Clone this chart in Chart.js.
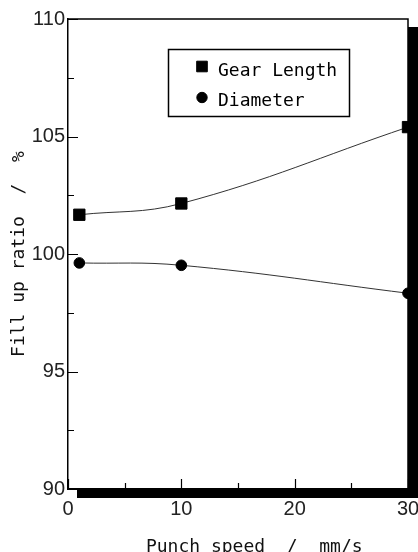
<!DOCTYPE html>
<html><head><meta charset="utf-8">
<script src="https://cdn.jsdelivr.net/npm/chart.js@4/dist/chart.umd.min.js"></script>
<style>html,body{margin:0;padding:0;background:#fff;overflow:hidden}</style>
</head><body>
<canvas id="c" width="418" height="552"></canvas>
<script>
const speeds = [1, 10, 30];
const gearLength = [101.67, 102.15, 105.4];
const diameter = [99.62, 99.52, 98.33];
const seriesNames = ['Gear Length', 'Diameter'];
const seriesMarkers = ['rect', 'circle'];
const xMajorTicks = [0, 10, 20, 30];
const xMinorTicks = [5, 15, 25];
const yMajorTicks = [90, 95, 100, 105, 110];
const yMinorTicks = [92.5, 97.5, 102.5, 107.5];
const xTitle = 'Punch speed  /  mm/s';
const yTitle = 'Fill up ratio  /  %';

const MONO = '"DejaVu Sans Mono", monospace';
const SANS = '"Liberation Sans", Arial, sans-serif';

function pts(ys) { return speeds.map((x, i) => ({x: x, y: ys[i]})); }

const framePlugin = {
  id: 'frame',
  beforeDraw(chart) {
    const {ctx, chartArea: a} = chart;
    ctx.save();
    ctx.fillStyle = '#000';
    ctx.fillRect(a.left + 9, a.top + 8, (a.right + 10) - (a.left + 9), (a.bottom + 9) - (a.top + 8));
    ctx.fillStyle = '#fff';
    ctx.fillRect(a.left, a.top, a.right - a.left, a.bottom - a.top);
    ctx.restore();
  },
  beforeDatasetsDraw(chart) {
    const {ctx, chartArea: a, scales} = chart;
    const xs = scales.x, ys = scales.y;
    ctx.save();
    ctx.strokeStyle = '#000';
    ctx.lineWidth = 1.5;
    ctx.beginPath();
    ctx.moveTo(a.left, a.top);
    ctx.lineTo(a.right, a.top);
    ctx.lineTo(a.right, a.bottom);
    ctx.stroke();
    ctx.lineWidth = 1.2;
    ctx.beginPath();
    xMajorTicks.forEach(v => { const p = Math.round(xs.getPixelForValue(v)) + 0.5; ctx.moveTo(p, a.bottom); ctx.lineTo(p, a.bottom - 10); });
    xMinorTicks.forEach(v => { const p = Math.round(xs.getPixelForValue(v)) + 0.5; ctx.moveTo(p, a.bottom); ctx.lineTo(p, a.bottom - 6); });
    yMajorTicks.forEach(v => { const p = Math.round(ys.getPixelForValue(v)) + 0.5; ctx.moveTo(a.left, p); ctx.lineTo(a.left + 10, p); });
    yMinorTicks.forEach(v => { const p = Math.round(ys.getPixelForValue(v)) + 0.5; ctx.moveTo(a.left, p); ctx.lineTo(a.left + 6, p); });
    ctx.stroke();
    ctx.restore();
  },
  afterDraw(chart) {
    const {ctx} = chart;
    ctx.save();
    ctx.strokeStyle = '#000';
    ctx.lineWidth = 1.5;
    ctx.fillStyle = '#fff';
    ctx.fillRect(168.5, 49.5, 181, 67);
    ctx.strokeRect(168.5, 49.5, 181, 67);
    ctx.font = '18px ' + MONO;
    ctx.textBaseline = 'alphabetic';
    ctx.textAlign = 'left';
    const rows = [{y: 66.5, base: 76}, {y: 97.5, base: 106}];
    chart.data.datasets.forEach((ds, i) => {
      ctx.fillStyle = '#000';
      ctx.strokeStyle = '#000';
      ctx.lineWidth = 1;
      Chart.helpers.drawPoint(ctx, {pointStyle: seriesMarkers[i], radius: i === 0 ? 7.5 : 5.2, borderWidth: 1}, 202, rows[i].y);
      ctx.fillStyle = '#000';
      ctx.fillText(ds.label, 218, rows[i].base);
    });
    ctx.restore();
  }
};

new Chart(document.getElementById('c'), {
  type: 'line',
  data: {
    datasets: seriesNames.map((name, i) => ({
      label: name,
      data: pts(i === 0 ? gearLength : diameter),
      borderColor: '#333',
      borderWidth: 1,
      tension: 0.4,
      pointStyle: seriesMarkers[i],
      pointRadius: i === 0 ? 8 : 5.3,
      pointBorderWidth: 1,
      pointBackgroundColor: '#000',
      pointBorderColor: '#000',
      fill: false
    }))
  },
  options: {
    responsive: false,
    animation: false,
    devicePixelRatio: 1,
    layout: {padding: {top: 19, right: 10, bottom: 0, left: 0}},
    plugins: {legend: {display: false}, tooltip: {enabled: false}},
    scales: {
      x: {
        type: 'linear', min: 0, max: 30,
        afterBuildTicks: s => { s.ticks = xMajorTicks.map(v => ({value: v})); },
        afterFit: s => { s.height = 63; s.paddingLeft = 0; s.paddingRight = 0; },
        grid: {display: false, drawTicks: false},
        border: {display: true, color: '#000', width: 1.5},
        ticks: {padding: 8, color: '#222', maxRotation: 0, autoSkip: false, font: {family: SANS, size: 20}},
        title: {display: true, text: '   ' + xTitle, color: '#111', font: {family: MONO, size: 18, lineHeight: 1}, padding: {top: 0, bottom: -4}}
      },
      y: {
        type: 'linear', min: 90, max: 110,
        afterBuildTicks: s => { s.ticks = yMajorTicks.map(v => ({value: v})); },
        afterFit: s => { s.width = 68; s.paddingTop = 0; s.paddingBottom = 0; },
        grid: {display: false, drawTicks: false},
        border: {display: true, color: '#000', width: 1.5},
        ticks: {padding: 3, color: '#222', autoSkip: false, font: {family: SANS, size: 20}},
        title: {display: true, text: yTitle, color: '#111', font: {family: MONO, size: 18, lineHeight: 1}, padding: {top: 10, bottom: 0}}
      }
    }
  },
  plugins: [framePlugin]
});
</script>
</body></html>
